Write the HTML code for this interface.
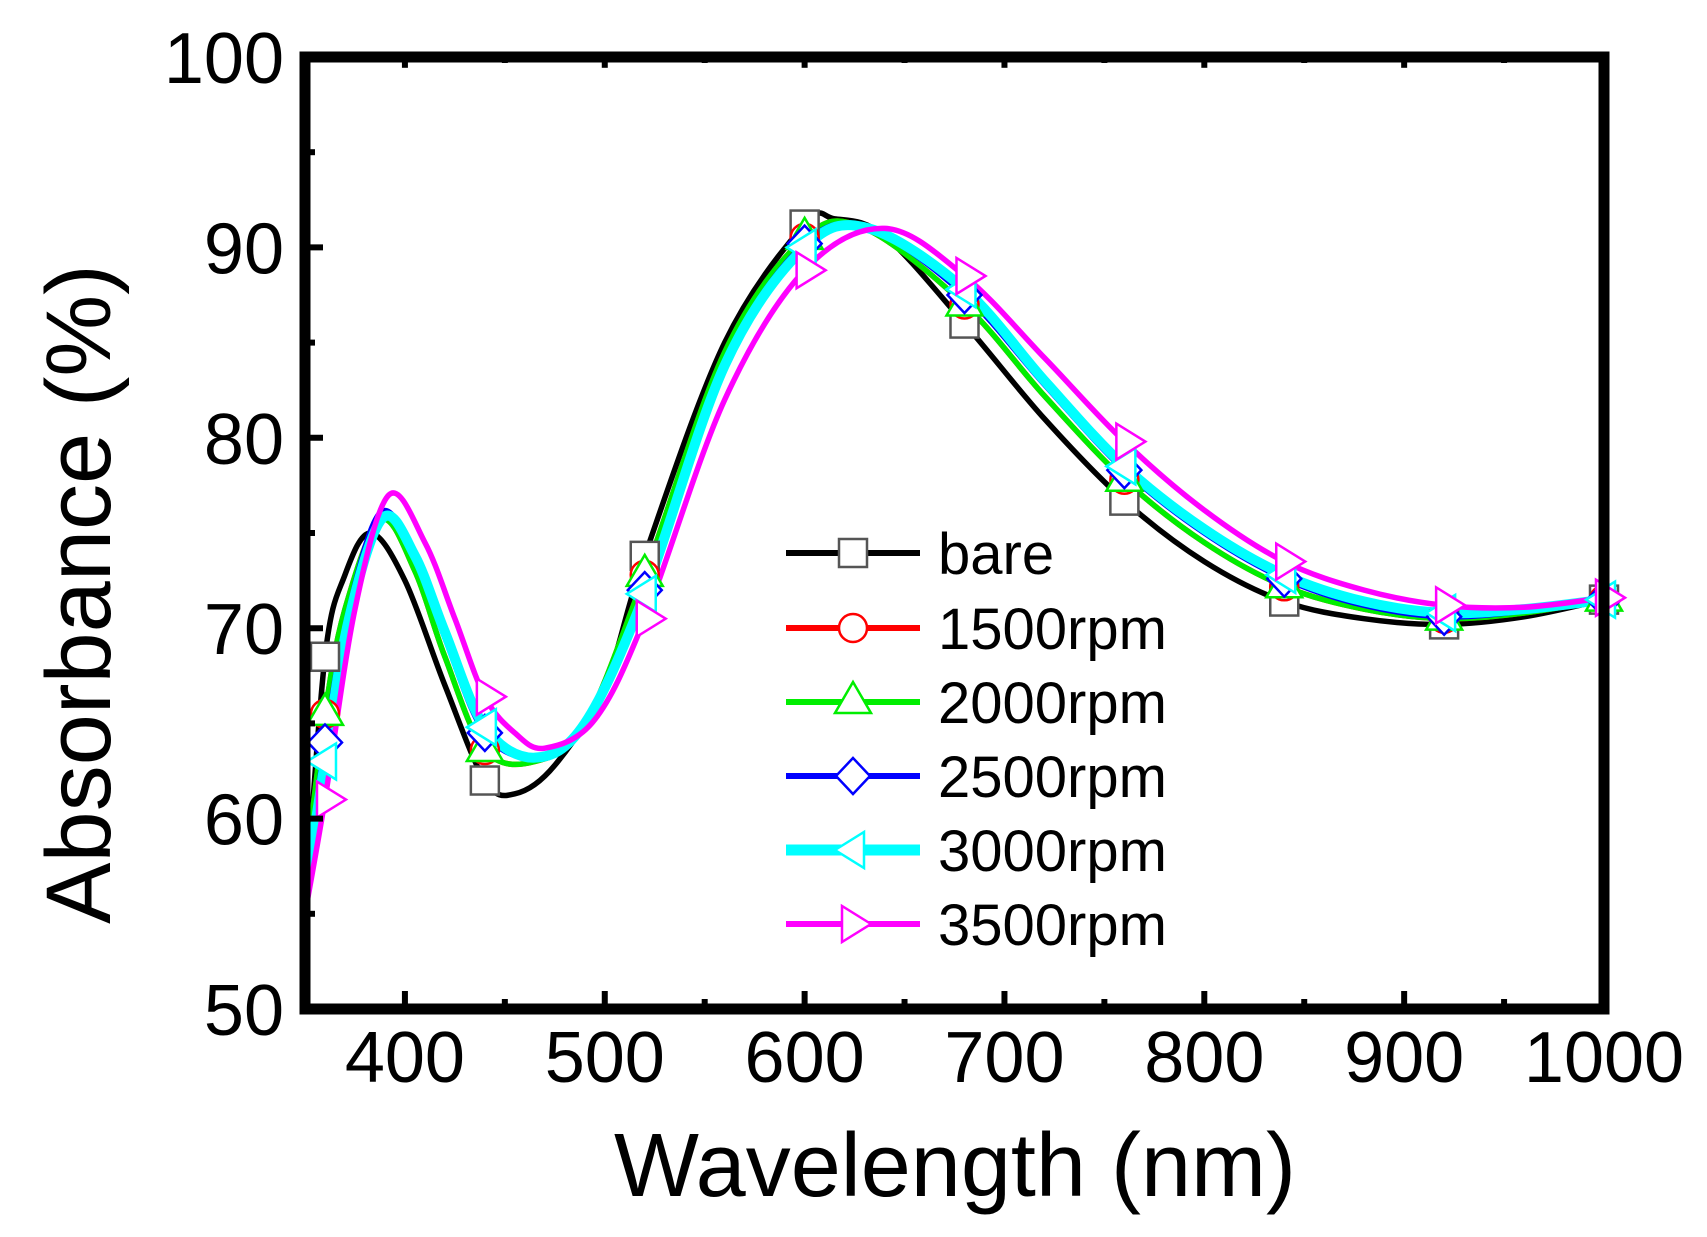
<!DOCTYPE html>
<html><head><meta charset="utf-8"><style>
html,body{margin:0;padding:0;background:#fff;}
svg{display:block;}
text{font-family:"Liberation Sans",Arial,sans-serif;fill:#000;}
</style></head><body>
<svg id="chart" width="1707" height="1237" viewBox="0 0 1707 1237" xmlns="http://www.w3.org/2000/svg">
<g id="plot"></g>
<g id="axes"></g>
<g id="legend"></g>
</svg>
<script>
const xTicks = [400,500,600,700,800,900,1000];
const yTicks = [50,60,70,80,90,100];
const seriesNames = ["bare","1500rpm","2000rpm","2500rpm","3000rpm","3500rpm"];
const wlBare = [350,360,370,383,400,420,440,455,475,500,520,560,600,615,640,680,720,760,800,840,880,920,960,1000];
const absBare = [55,68.5,72.8,75,72.5,67,62,61.3,62.8,67,73.8,85,91.2,91.5,90.6,86,81,76.7,73.5,71.4,70.5,70.2,70.6,71.5];
const wl1500 = [350,360,370,388,405,420,440,465,490,520,560,600,630,680,720,760,800,840,880,920,960,1000];
const abs1500 = [57,65.5,71,75.7,73,68.5,63.6,63,65,72.8,84.5,90.5,91,87,82.2,77.8,74.5,72.2,71,70.5,70.8,71.5];
const wl2000 = [350,360,370,388,405,420,440,465,490,520,560,600,630,680,720,760,800,840,880,920,960,1000];
const abs2000 = [57,65.5,71,75.7,73,68.5,63.6,63,65,72.8,84.5,90.5,91,87,82.2,77.8,74.5,72.2,71,70.5,70.8,71.5];
const wl2500 = [350,360,372,388,405,420,440,465,490,520,560,600,632,680,720,760,800,840,880,920,960,1000];
const abs2500 = [56,64,71,76.1,73.8,69.5,64.5,63.2,65,72,84,90.2,91,87.5,82.8,78.3,75,72.6,71.2,70.6,70.9,71.5];
const wl3000 = [350,360,372,389,405,420,440,465,490,520,560,600,632,680,720,760,800,840,880,920,960,1000];
const abs3000 = [56,63,70.5,75.8,73.8,69.8,64.8,63.2,65,71.8,83.8,90,91,87.8,83,78.5,75.2,72.8,71.4,70.8,71,71.5];
const wl3500 = [350,360,375,392,410,425,440,455,470,495,520,560,600,640,680,720,760,800,840,880,920,960,1000];
const abs3500 = [55,61,71,77,74.5,70.5,66.4,64.5,63.7,65.2,70.5,82,88.8,91,88.5,84.2,79.8,76.2,73.5,72,71.2,71.1,71.6];
const markerWl = [360,440,520,600,680,760,840,920,1000];

const X0=305,X1=1604,Y0=1009,Y1=57;
const xs=v=>X0+(v-350)/(1000-350)*(X1-X0);
const ys=v=>Y0-(v-50)/(100-50)*(Y0-Y1);
const NS="http://www.w3.org/2000/svg";
function mk(tag,parent,attrs){const e=document.createElementNS(NS,tag);for(const k in attrs)e.setAttribute(k,attrs[k]);parent.appendChild(e);return e;}
function smoothPath(px){let d=`M${px[0][0]},${px[0][1]}`;for(let i=0;i<px.length-1;i++){const p0=px[Math.max(0,i-1)],p1=px[i],p2=px[i+1],p3=px[Math.min(px.length-1,i+2)];const c1=[p1[0]+(p2[0]-p0[0])/6,p1[1]+(p2[1]-p0[1])/6],c2=[p2[0]-(p3[0]-p1[0])/6,p2[1]-(p3[1]-p1[1])/6];d+=` C${c1[0]},${c1[1]} ${c2[0]},${c2[1]} ${p2[0]},${p2[1]}`;}return d;}
function interp(wl,ab,x){for(let i=0;i<wl.length-1;i++){if(x>=wl[i]&&x<=wl[i+1]){const t=(x-wl[i])/(wl[i+1]-wl[i]);return ab[i]+t*(ab[i+1]-ab[i]);}}return ab[ab.length-1];}
function marker(g,type,cx,cy,color){const s=14;let e;
 if(type==="square"){e=mk("rect",g,{x:cx-s,y:cy-s,width:2*s,height:2*s,fill:"#fff",stroke:"#555","stroke-width":2.5});}
 else if(type==="circle"){e=mk("circle",g,{cx:cx,cy:cy,r:s,fill:"#fff",stroke:color,"stroke-width":2.5});}
 else if(type==="up"){e=mk("polygon",g,{points:`${cx},${cy-20} ${cx-18},${cy+11} ${cx+18},${cy+11}`,fill:"#fff",stroke:color,"stroke-width":2.5});}
 else if(type==="diamond"){e=mk("polygon",g,{points:`${cx},${cy-18} ${cx+17},${cy} ${cx},${cy+18} ${cx-17},${cy}`,fill:"#fff",stroke:color,"stroke-width":2.5});}
 else if(type==="left"){e=mk("polygon",g,{points:`${cx-18},${cy} ${cx+11},${cy-18} ${cx+11},${cy+18}`,fill:"#fff",stroke:color,"stroke-width":2.5});}
 else {e=mk("polygon",g,{points:`${cx+18},${cy} ${cx-11},${cy-18} ${cx-11},${cy+18}`,fill:"#fff",stroke:color,"stroke-width":2.5});}
 return e;}

const seriesWl=[wlBare,wl1500,wl2000,wl2500,wl3000,wl3500];
const seriesAbs=[absBare,abs1500,abs2000,abs2500,abs3000,abs3500];
const colors=["#000","#ff0000","#00ee00","#0000ff","#00ffff","#ff00ff"];
const widths=[5.5,5.5,5.5,5.5,10,5.5];
const mtypes=["square","circle","up","diamond","left","right"];
const plot=document.getElementById("plot");
const clip=mk("clipPath",plot,{id:"clip"});mk("rect",clip,{x:X0,y:Y1,width:X1-X0,height:Y0-Y1});
const order=[0,1,2,3,4,5];
order.forEach(i=>{
 const g=mk("g",plot,{"clip-path":"url(#clip)"});
 
 
 const px=seriesWl[i].map((w,j)=>[xs(w),ys(seriesAbs[i][j])]);
 const p=mk("path",g,{d:smoothPath(px),fill:"none",stroke:colors[i],"stroke-width":widths[i],"stroke-linejoin":"round"});
 
 
});
order.forEach(i=>{
 const g=mk("g",plot,{});
 
 
 markerWl.forEach(w=>{const m=marker(g,mtypes[i],xs(w)+(i===5?3:0),ys(interp(seriesWl[i],seriesAbs[i],w)),colors[i]);
  
  });
});

const axes=document.getElementById("axes");
const frame=mk("rect",axes,{x:X0,y:Y1,width:X1-X0,height:Y0-Y1,fill:"none",stroke:"#000","stroke-width":11});


for(let v=350;v<=1000;v+=50){const x=xs(v);const L=(v%100===0)?18:10;
 mk("line",axes,{x1:x,y1:Y0,x2:x,y2:Y0-L,stroke:"#000","stroke-width":6});
 mk("line",axes,{x1:x,y1:Y1,x2:x,y2:Y1+L*0.6,stroke:"#000","stroke-width":6});}
for(let v=50;v<=100;v+=5){const y=ys(v);const L=(v%10===0)?18:10;
 mk("line",axes,{x1:X0,y1:y,x2:X0+L,y2:y,stroke:"#000","stroke-width":6});}
xTicks.forEach(v=>{const t=mk("text",axes,{x:xs(v),y:1082,"font-size":72,"text-anchor":"middle"});t.textContent=v;
 
 });
yTicks.forEach(v=>{const t=mk("text",axes,{x:284,y:ys(v)+26,"font-size":72,"text-anchor":"end"});t.textContent=v;
 
 });
const xt=mk("text",axes,{x:955,y:1196,"font-size":90,"text-anchor":"middle"});xt.textContent="Wavelength (nm)";


const yt=mk("text",axes,{x:0,y:0,"font-size":92,"text-anchor":"middle",transform:"translate(110,594) rotate(-90)"});yt.textContent="Absorbance (%)";



const leg=document.getElementById("legend");
const rowY=[553,628,702,776,850,924];
seriesNames.forEach((n,i)=>{
 const g=mk("g",leg,{});
 
 
 mk("line",g,{x1:786,y1:rowY[i],x2:920,y2:rowY[i],stroke:colors[i],"stroke-width":i===4?11:6});
 marker(g,mtypes[i],853,rowY[i],colors[i]);
 const t=mk("text",g,{x:938,y:rowY[i]+21,"font-size":58});t.textContent=n;
});
</script>
</body></html>
